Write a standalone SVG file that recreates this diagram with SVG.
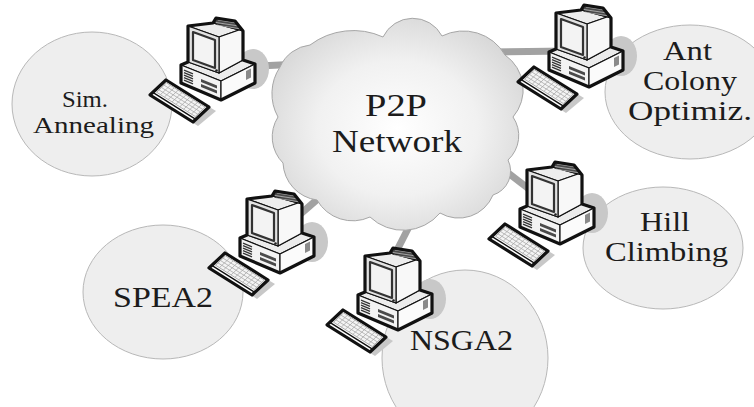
<svg xmlns="http://www.w3.org/2000/svg" xmlns:xlink="http://www.w3.org/1999/xlink" width="754" height="407" viewBox="0 0 754 407">
  <style>
    .peer { fill: #eeeeee; stroke: #b8b8b8; stroke-width: 1; }
    .link { stroke: #a2a2a2; stroke-width: 7; fill: none; }
    .lbl { font-family: "Liberation Serif", "Times New Roman", serif; fill: #1c1c1c; text-anchor: middle; }
    .big { font-size: 31px; }
    .one { font-size: 30px; }
    .mid { font-size: 27px; }
    .sml { font-size: 23px; }
    .face { stroke: #111; stroke-width: 1.2; stroke-linejoin: round; }
    .edge { fill: none; stroke: #111; stroke-width: 3.2; stroke-linejoin: round; }
    .shade { fill: #c8c8c8; }
    .dark { fill: #4a4a4a; }
  </style>
  <defs>
    <radialGradient id="cloudFill" cx="0.5" cy="0.52" r="0.58">
      <stop offset="0" stop-color="#ffffff"/>
      <stop offset="0.55" stop-color="#f1f1f1"/>
      <stop offset="1" stop-color="#d6d6d6"/>
    </radialGradient>

    <!-- desktop computer: origin at the top-left corner of the monitor front -->
    <g id="pc">
      <!-- drop shadows -->
      <ellipse class="shade" cx="64" cy="42" rx="16" ry="20"/>
      <polygon class="shade" points="-34,72 -18,57 27,84 9,99"/>
      <!-- base -->
      <polygon class="face" fill="#ececec" points="-8,38 -1,35 30,46 54,33 66,37 32,54"/>
      <polygon class="face" fill="#f3f3f3" points="-8,38 32,54 32,73 -8,56"/>
      <polygon class="face" fill="#fbfbfb" points="32,54 66,37 66,56 32,73"/>
      <g stroke="#333" stroke-width="1.3">
        <line x1="-5" y1="43.2" x2="4" y2="46.8"/>
        <line x1="-5" y1="45.7" x2="4" y2="49.3"/>
        <line x1="-5" y1="48.2" x2="4" y2="51.8"/>
        <line x1="-5" y1="50.7" x2="4" y2="54.3"/>
        <line x1="-5" y1="53.2" x2="4" y2="56.8"/>
      </g>
      <polygon class="dark" points="12,52 28,58.4 28,61.4 12,55"/>
      <polygon class="dark" points="12,57 28,63.4 28,66.4 12,60"/>
      <polygon fill="#8a8a8a" points="57,44 62,41.5 62,50.5 57,53"/>
      <!-- monitor -->
      <polygon class="face" fill="#ededed" points="-1,-1 24,-4 50,3 30,10"/>
      <polygon class="face" fill="#4a4a4a" points="24,-4 27,-9 46,-6 54,4 50,3"/>
      <g stroke="#bbb" stroke-width="0.8">
        <line x1="29" y1="-7" x2="48" y2="-4"/>
        <line x1="27" y1="-4.5" x2="50" y2="-1"/>
        <line x1="28" y1="-2" x2="52" y2="2"/>
      </g>
      <polygon class="face" fill="#f8f8f8" points="30,10 50,3 54,4 54,33 30,46"/>
      <polygon class="face" fill="#e2e2e2" points="-1,-1 30,10 30,46 -1,35"/>
      <polygon fill="#f3f3f3" stroke="#333" stroke-width="2.2" stroke-linejoin="round" points="4,5 26,13 26,41 4,33"/>
      <circle cx="27.5" cy="43.5" r="1.3" fill="#222"/>
      <!-- heavy silhouette -->
      <path class="edge" d="M -1,-1 L 24,-4 L 27,-9 L 46,-6 L 54,4 L 54,33 L 66,37 L 66,56 L 32,73 L -8,56 L -8,38 L -1,35 Z"/>
      <!-- keyboard, drawn on a 10 x 4 key plate -->
      <g transform="matrix(4.3,2.7,4,-3.75,-39,68)">
        <rect x="0" y="0" width="10" height="4" fill="#ffffff" stroke="#111" stroke-width="3.2" stroke-linejoin="round" vector-effect="non-scaling-stroke"/>
        <line x1="0" y1="0.7" x2="10" y2="0.7" stroke="#111" stroke-width="1.3" vector-effect="non-scaling-stroke"/>
        <rect x="0.5" y="1.1" width="9" height="2.5" fill="#f4f4f4" stroke="#9a9a9a" stroke-width="0.8" vector-effect="non-scaling-stroke"/>
        <g stroke="#a8a8a8" stroke-width="0.8">
          <line x1="0.5" y1="1.72" x2="9.5" y2="1.72" vector-effect="non-scaling-stroke"/>
          <line x1="0.5" y1="2.35" x2="9.5" y2="2.35" vector-effect="non-scaling-stroke"/>
          <line x1="0.5" y1="2.98" x2="9.5" y2="2.98" vector-effect="non-scaling-stroke"/>
          <line x1="1.4" y1="1.1" x2="1.4" y2="3.6" vector-effect="non-scaling-stroke"/>
          <line x1="2.3" y1="1.1" x2="2.3" y2="3.6" vector-effect="non-scaling-stroke"/>
          <line x1="3.2" y1="1.1" x2="3.2" y2="3.6" vector-effect="non-scaling-stroke"/>
          <line x1="4.1" y1="1.1" x2="4.1" y2="3.6" vector-effect="non-scaling-stroke"/>
          <line x1="5.0" y1="1.1" x2="5.0" y2="3.6" vector-effect="non-scaling-stroke"/>
          <line x1="5.9" y1="1.1" x2="5.9" y2="3.6" vector-effect="non-scaling-stroke"/>
          <line x1="6.8" y1="1.1" x2="6.8" y2="3.6" vector-effect="non-scaling-stroke"/>
          <line x1="7.7" y1="1.1" x2="7.7" y2="3.6" vector-effect="non-scaling-stroke"/>
          <line x1="8.6" y1="1.1" x2="8.6" y2="3.6" vector-effect="non-scaling-stroke"/>
        </g>
      </g>
    </g>
  </defs>

  <rect width="754" height="407" fill="#ffffff"/>

  <!-- algorithm bubbles -->
  <g id="bubbles">
    <ellipse id="bubble-sa" class="peer" cx="92" cy="104" rx="80" ry="72"/>
    <ellipse id="bubble-aco" class="peer" cx="690" cy="92" rx="85" ry="67"/>
    <ellipse id="bubble-hc" class="peer" cx="663" cy="248" rx="80" ry="61"/>
    <ellipse id="bubble-spea2" class="peer" cx="163" cy="292" rx="80" ry="67"/>
    <ellipse id="bubble-nsga2" class="peer" cx="465" cy="358" rx="83" ry="88"/>
  </g>

  <!-- network links -->
  <g id="connectors">
    <line class="link" x1="240" y1="67" x2="300" y2="64"/>
    <line class="link" x1="490" y1="52" x2="568" y2="51"/>
    <line class="link" x1="495" y1="163" x2="542" y2="199"/>
    <line class="link" x1="335" y1="184" x2="282" y2="230"/>
    <line class="link" x1="415" y1="215" x2="392" y2="260"/>
  </g>

  <!-- P2P network cloud -->
  <g id="p2p-network">
    <path fill="url(#cloudFill)" stroke="#a6a6a6" stroke-width="1"
          d="M 310,45 A 72,72 0 0 1 383,37 A 33,33 0 0 1 442,36 A 48,48 0 0 1 505,55 A 42,42 0 0 1 513,117 A 33,33 0 0 1 508,160 A 25,25 0 0 1 493,195 A 37,37 0 0 1 440,213 A 48,48 0 0 1 370,217 A 41,41 0 0 1 317,200 A 39,39 0 0 1 283,163 A 37,37 0 0 1 278,117 A 48,48 0 0 1 280,67 A 37,37 0 0 1 310,45 Z"/>
    <text class="lbl big"><tspan x="396" y="116" textLength="62" lengthAdjust="spacingAndGlyphs">P2P</tspan><tspan x="397" y="152" textLength="130" lengthAdjust="spacingAndGlyphs">Network</tspan></text>
  </g>

  <!-- peers -->
  <g id="node-sim-annealing">
    <use xlink:href="#pc" transform="translate(189,27)"/>
    <text class="lbl sml"><tspan x="85" y="107" textLength="46" lengthAdjust="spacingAndGlyphs">Sim.</tspan><tspan x="93.5" y="133" textLength="121" lengthAdjust="spacingAndGlyphs">Annealing</tspan></text>
  </g>
  <g id="node-ant-colony">
    <use xlink:href="#pc" transform="translate(557,14)"/>
    <text class="lbl mid"><tspan x="687.5" y="60" textLength="49" lengthAdjust="spacingAndGlyphs">Ant</tspan><tspan x="690" y="90" textLength="94" lengthAdjust="spacingAndGlyphs">Colony</tspan><tspan x="690" y="120" textLength="124" lengthAdjust="spacingAndGlyphs">Optimiz.</tspan></text>
  </g>
  <g id="node-hill-climbing">
    <use xlink:href="#pc" transform="translate(528,171)"/>
    <text class="lbl mid"><tspan x="665" y="231" textLength="50" lengthAdjust="spacingAndGlyphs">Hill</tspan><tspan x="666.5" y="261" textLength="123" lengthAdjust="spacingAndGlyphs">Climbing</tspan></text>
  </g>
  <g id="node-spea2">
    <use xlink:href="#pc" transform="translate(248,200)"/>
    <text class="lbl one" x="163" y="307" textLength="100" lengthAdjust="spacingAndGlyphs">SPEA2</text>
  </g>
  <g id="node-nsga2">
    <use xlink:href="#pc" transform="translate(366,257)"/>
    <text class="lbl one" x="461.5" y="350" textLength="103" lengthAdjust="spacingAndGlyphs">NSGA2</text>
  </g>
</svg>
